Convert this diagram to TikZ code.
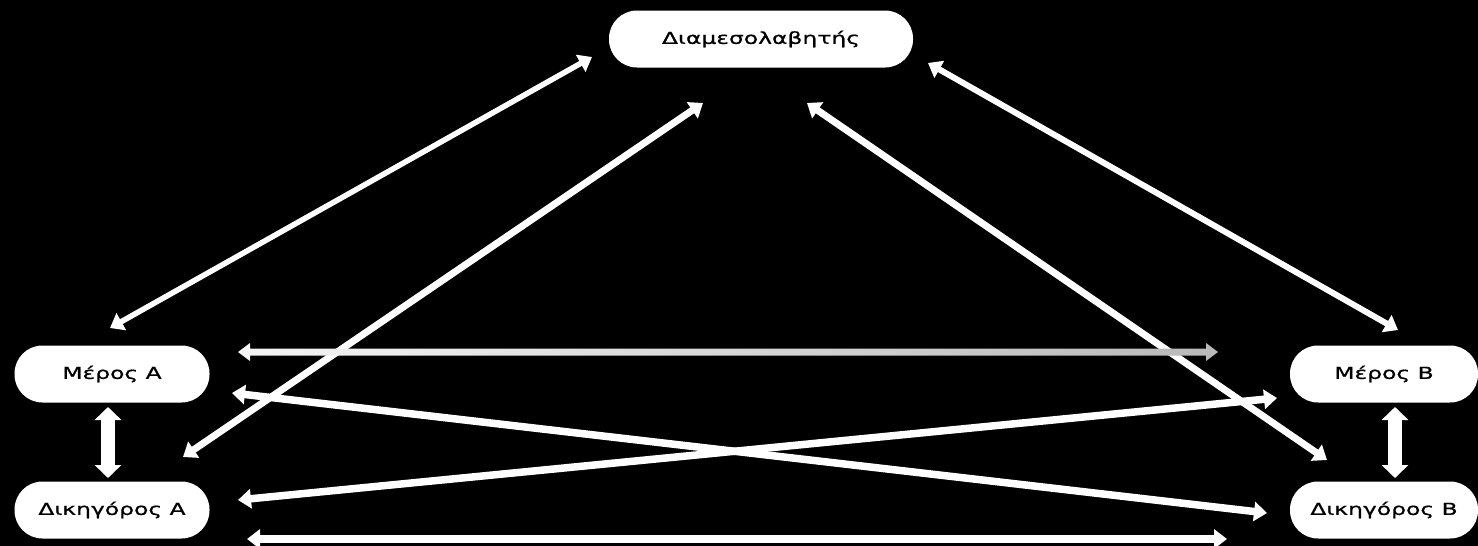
\documentclass[tikz,border=0pt]{standalone}
\usepackage{fontspec}
\newfontfamily\labelfont[FakeStretch=1.42,FakeBold=0.8]{DejaVu Sans}
\usetikzlibrary{arrows.meta,calc}
\begin{document}
\begin{tikzpicture}[x=1pt,y=-1pt,
  box/.style={fill=white, rounded corners=28pt, inner sep=0pt,
    minimum height=57pt, font=\labelfont\fontsize{16.5}{19}\selectfont, text=black},
  link/.style={draw=white, line width=6.5pt,
    {Triangle[width=19pt,length=13pt]}-{Triangle[width=19pt,length=13pt]}},
  vlink/.style={draw=white, line width=14pt,
    {Triangle[width=26pt,length=13pt]}-{Triangle[width=26pt,length=13pt]}}]
\fill[black] (0,0) rectangle (1478,546);
\useasboundingbox (0,0) rectangle (1478,546);

% nodes
\node[box, minimum width=304pt] (med) at (761,39) {Διαμεσολαβητής};
\node[box, minimum width=195pt] (pa) at (112,374) {Μέρος Α};
\node[box, minimum width=195pt] (la) at (112,510) {Δικηγόρος Α};
\node[box, minimum width=188pt] (pb) at (1384,374) {Μέρος Β};
\node[box, minimum width=188pt] (lb) at (1384,510) {Δικηγόρος Β};

% connector end points
\coordinate (m1) at (592,57);   \coordinate (pa1) at (110,328);
\coordinate (m2) at (703,103);  \coordinate (la1) at (183,457);
\coordinate (m3) at (807,103);  \coordinate (lb1) at (1327,460);
\coordinate (m4) at (928,63);   \coordinate (pb1) at (1398,330);
\coordinate (pa2) at (238,352); \coordinate (pb2) at (1218,352);
\coordinate (pa3) at (232,393); \coordinate (lb2) at (1267,513);
\coordinate (pb3) at (1277,398);\coordinate (la2) at (238,500);
\coordinate (la3) at (247,539); \coordinate (lb3) at (1227,539);
\coordinate (pa4) at (108,407); \coordinate (la4) at (108,478);
\coordinate (pb4) at (1395,407);\coordinate (lb4) at (1395,478);

% connectors
\draw[link, line width=5.5pt] (m1) -- (pa1);
\draw[link, line width=7pt] (m2) -- (la1);
\draw[link, line width=7pt] (m3) -- (lb1);
\draw[link, line width=6pt] (m4) -- (pb1);
\draw[link, line width=7.5pt] (pa3) -- (lb2);
\draw[link, line width=7.5pt] (pb3) -- (la2);
\draw[link, line width=7.5pt] (la3) -- (lb3);
\draw[vlink] (pa4) -- (la4);
\draw[vlink] (pb4) -- (lb4);
% shaded horizontal arrow between the parties
\shade[left color=gray!8, right color=gray!55]
  (pa2) -- ($(pa2)+(12,-9)$) -- ($(pa2)+(12,-3.5)$) -- ($(pb2)+(-12,-3.5)$)
  -- ($(pb2)+(-12,-9)$) -- (pb2) -- ($(pb2)+(-12,9)$) -- ($(pb2)+(-12,3.5)$)
  -- ($(pa2)+(12,3.5)$) -- ($(pa2)+(12,9)$) -- cycle;
\end{tikzpicture}
\end{document}
